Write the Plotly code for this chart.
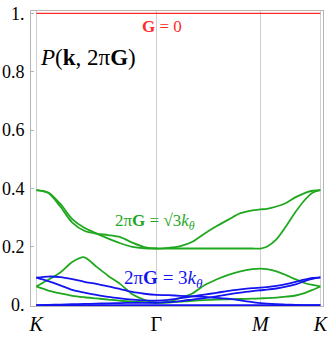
import plotly.graph_objects as go

# path coordinate: K=0, Gamma=1, M=1+sqrt(3)/2, K=2.366
path_x = [0, 0.1, 0.2, 0.3, 0.4, 0.5, 0.6, 0.7, 0.8, 0.9, 1.0,
          1.1, 1.2, 1.3, 1.4, 1.5, 1.6, 1.7, 1.8, 1.866,
          1.92, 2.0, 2.08, 2.16, 2.24, 2.30, 2.366]
tick_vals = [0, 1.0, 1.866, 2.366]
tick_text = ["<i>K</i>", "Γ", "<i>M</i>", "<i>K</i>"]
y_tick_vals = [0, 0.2, 0.4, 0.6, 0.8, 1.0]
y_tick_text = ["0.", "0.2", "0.4", "0.6", "0.8", "1."]

red_g0 = [1.0] * 27

green_u1 = [0.394, 0.386, 0.347, 0.295, 0.265, 0.246, 0.228, 0.212, 0.200, 0.195, 0.194,
            0.194, 0.194, 0.194, 0.194, 0.194, 0.194, 0.194, 0.194, 0.194,
            0.200, 0.225, 0.270, 0.320, 0.362, 0.385, 0.394]
green_u2 = [0.394, 0.384, 0.338, 0.283, 0.255, 0.245, 0.240, 0.233, 0.214, 0.199, 0.194,
            0.196, 0.202, 0.217, 0.245, 0.270, 0.293, 0.315, 0.325, 0.328,
            0.330, 0.338, 0.350, 0.370, 0.385, 0.392, 0.394]
green_l1 = [0.064, 0.087, 0.112, 0.148, 0.164, 0.132, 0.100, 0.072, 0.037, 0.018, 0.008,
            0.012, 0.025, 0.040, 0.068, 0.088, 0.104, 0.116, 0.123, 0.125,
            0.123, 0.116, 0.103, 0.088, 0.075, 0.069, 0.064]
green_l2 = [0.064, 0.050, 0.040, 0.032, 0.027, 0.023, 0.019, 0.015, 0.012, 0.010, 0.008,
            0.009, 0.012, 0.015, 0.017, 0.019, 0.020, 0.021, 0.022, 0.023,
            0.024, 0.026, 0.029, 0.033, 0.042, 0.052, 0.064]

blue_b0 = [0.0] * 27
blue_b1 = [0.094, 0.098, 0.096, 0.089, 0.080, 0.073, 0.064, 0.055, 0.045, 0.039, 0.035,
           0.034, 0.032, 0.030, 0.028, 0.025, 0.022, 0.016, 0.010, 0.007,
           0.005, 0.003, 0.002, 0.001, 0.0, 0.0, 0.0]
blue_b2 = [0.094, 0.082, 0.068, 0.052, 0.043, 0.035, 0.028, 0.023, 0.019, 0.016, 0.015,
           0.018, 0.024, 0.030, 0.036, 0.042, 0.049, 0.054, 0.058, 0.060,
           0.062, 0.066, 0.072, 0.080, 0.088, 0.093, 0.095]
blue_b3 = [0.0, 0.001, 0.002, 0.003, 0.004, 0.005, 0.006, 0.007, 0.008, 0.008, 0.008,
           0.010, 0.014, 0.019, 0.024, 0.030, 0.037, 0.043, 0.048, 0.051,
           0.053, 0.057, 0.063, 0.071, 0.083, 0.090, 0.095]

RED = "#ff2a2a"
GREEN = "#1fa81f"
BLUE = "#1414f0"

fig = go.Figure()


def add(y, color, width=1.8):
    fig.add_trace(go.Scatter(x=path_x, y=y, mode="lines",
                             line=dict(color=color, width=width, shape="spline", smoothing=0.8),
                             showlegend=False, hoverinfo="skip"))


add(red_g0, RED, 1.4)
for s in [green_u1, green_u2, green_l1, green_l2]:
    add(s, GREEN)
for s in [blue_b0, blue_b1, blue_b2, blue_b3]:
    add(s, BLUE)

serif = "Liberation Serif"
fig.update_layout(
    width=332, height=337,
    margin=dict(l=31, r=9, t=11, b=31, autoexpand=False),
    paper_bgcolor="white", plot_bgcolor="white",
    font=dict(family=serif, color="black"),
    xaxis=dict(range=[-0.044, 2.388], tickvals=tick_vals, ticktext=tick_text,
               showgrid=True, gridcolor="#cfcfcf", gridwidth=1,
               showline=True, linecolor="#b4b4b4", linewidth=1, mirror=True,
               ticks="", zeroline=False, automargin=False,
               tickfont=dict(size=20, family=serif)),
    yaxis=dict(range=[-0.003, 1.008], tickvals=y_tick_vals, ticktext=y_tick_text,
               showgrid=False, showline=True, linecolor="#b4b4b4", linewidth=1, mirror=True,
               ticks="inside", ticklen=3, tickcolor="#b4b4b4", zeroline=False,
               automargin=False, ticklabelstandoff=2,
               tickfont=dict(size=18, family=serif)),
    annotations=[
        dict(x=0.017, y=0.848, xref="x", yref="y", xanchor="left", yanchor="middle",
             text="<i>P</i>(<b>k</b>, 2π<b>G</b>)", showarrow=False,
             font=dict(size=23, family=serif, color="black")),
        dict(x=1.048, y=0.954, xref="x", yref="y", xanchor="center", yanchor="middle",
             text="<b>G</b> = 0", showarrow=False,
             font=dict(size=17, family=serif, color=RED)),
        dict(x=0.99, y=0.284, xref="x", yref="y", xanchor="center", yanchor="middle",
             text="2π<b>G</b> = √3<i>k</i><sub><i>θ</i></sub>", showarrow=False,
             font=dict(size=17, family=serif, color=GREEN)),
        dict(x=1.06, y=0.089, xref="x", yref="y", xanchor="center", yanchor="middle",
             text="2π<b>G</b> = 3<i>k</i><sub><i>θ</i></sub>", showarrow=False,
             font=dict(size=19, family=serif, color=BLUE)),
    ],
)

fig.write_html("out.html", config={"displayModeBar": False},
               post_script="document.body.style.margin='0';")
